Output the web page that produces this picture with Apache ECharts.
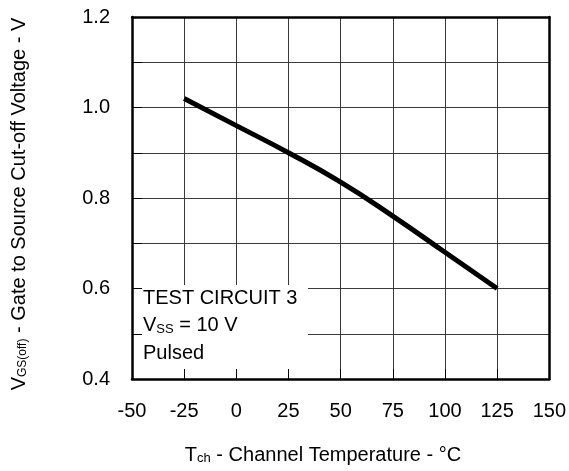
<!DOCTYPE html>
<html>
<head>
<meta charset="utf-8">
<script src="https://cdn.jsdelivr.net/npm/echarts@6/dist/echarts.min.js"></script>
<style>
  html, body { margin: 0; padding: 0; background: #fff; }
  #chart { width: 569px; height: 471px; }
</style>
</head>
<body>
<div id="chart"></div>
<script>
// channel temperature (°C) and cut-off voltage (V)
const temps = [-25, 0, 25, 50, 75, 100, 125];
const vgsOff = [1.02, 0.96, 0.90, 0.835, 0.76, 0.68, 0.60];

const xTicks = [-50, -25, 0, 25, 50, 75, 100, 125, 150];
const yTicks = [0.4, 0.6, 0.8, 1.0, 1.2];

const noteLines = ['TEST CIRCUIT 3', '{m|V}{s|SS}{m| = 10 V}', 'Pulsed'];

const FONT = '"Liberation Sans", Arial, sans-serif';
const chart = echarts.init(document.getElementById('chart'));

const gridBox = { left: 132, top: 17, right: 17, bottom: 92 };

// grid lines only
const baseX = {
    type: 'value', min: xTicks[0], max: xTicks[xTicks.length - 1], interval: 25, z: 0,
    axisLine: { show: false }, axisTick: { show: false }, axisLabel: { show: false },
    splitLine: { show: true, lineStyle: { color: '#3a3a3a', width: 1 } }
};
const baseY = {
    type: 'value', min: yTicks[0], max: yTicks[yTicks.length - 1], interval: 0.1, z: 0,
    axisLine: { show: false }, axisTick: { show: false }, axisLabel: { show: false },
    splitLine: { show: true, lineStyle: { color: '#3a3a3a', width: 1 } }
};

// frame, inward ticks and labels drawn over the note box
const frameX = (pos, labels) => ({
    type: 'value', position: pos, min: xTicks[0], max: xTicks[xTicks.length - 1], interval: 25, z: 10,
    splitLine: { show: false },
    axisLine: { show: true, onZero: false, lineStyle: { color: '#000', width: 2.5 } },
    axisTick: { show: labels, inside: true, length: 10, lineStyle: { color: '#000', width: 1 } },
    axisLabel: { show: labels, margin: 22, color: '#000', fontSize: 20, fontFamily: FONT }
});
const frameY = (pos, labels) => ({
    type: 'value', position: pos, min: yTicks[0], max: yTicks[yTicks.length - 1], interval: 0.1, z: 10,
    splitLine: { show: false },
    axisLine: { show: true, onZero: false, lineStyle: { color: '#000', width: 2.5 } },
    axisTick: { show: labels, inside: true, length: 10, lineStyle: { color: '#000', width: 1 } },
    axisLabel: {
        show: labels, margin: 22, color: '#000', fontSize: 20, fontFamily: FONT,
        formatter: v => (Math.round(v * 10) % 2 === 0 ? v.toFixed(1) : '')
    }
});

const option = {
    animation: false,
    backgroundColor: '#fff',
    textStyle: { fontFamily: FONT },
    grid: gridBox,
    xAxis: [baseX, frameX('bottom', true), frameX('top', false)],
    yAxis: [baseY, frameY('left', true), frameY('right', false)],
    series: [{
        type: 'line',
        xAxisIndex: 0, yAxisIndex: 0,
        data: temps.map((t, i) => [t, vgsOff[i]]),
        smooth: true,
        symbol: 'none',
        z: 8,
        lineStyle: { color: '#000', width: 5 }
    }],
    graphic: [
        { type: 'rect', z: 5, shape: { x: 132, y: 285, width: 176, height: 94 }, style: { fill: '#fff' } },
        ...noteLines.map((txt, i) => ({
            type: 'text', z: 6, x: 143, y: 298 + i * 27.5,
            style: {
                text: txt, fill: '#000', font: '20px ' + FONT, verticalAlign: 'middle',
                rich: { m: { fontSize: 20, fontFamily: FONT }, s: { fontSize: 13, fontFamily: FONT, verticalAlign: 'bottom' } }
            }
        })),
        {
            type: 'text', z: 6, x: 323, y: 455,
            style: {
                text: '{m|T}{s|ch}{m| - Channel Temperature - °C}', fill: '#000',
                align: 'center', verticalAlign: 'middle',
                rich: { m: { fontSize: 20, fontFamily: FONT }, s: { fontSize: 13, fontFamily: FONT, verticalAlign: 'bottom' } }
            }
        },
        {
            type: 'text', z: 6, x: 19, y: 204, rotation: Math.PI / 2,
            style: {
                text: '{m|V}{s|GS(off)}{m| - Gate to Source Cut-off Voltage - V}', fill: '#000',
                align: 'center', verticalAlign: 'middle',
                rich: { m: { fontSize: 20, fontFamily: FONT }, s: { fontSize: 12, fontFamily: FONT, verticalAlign: 'bottom' } }
            }
        }
    ]
};

chart.setOption(option);
</script>
</body>
</html>
